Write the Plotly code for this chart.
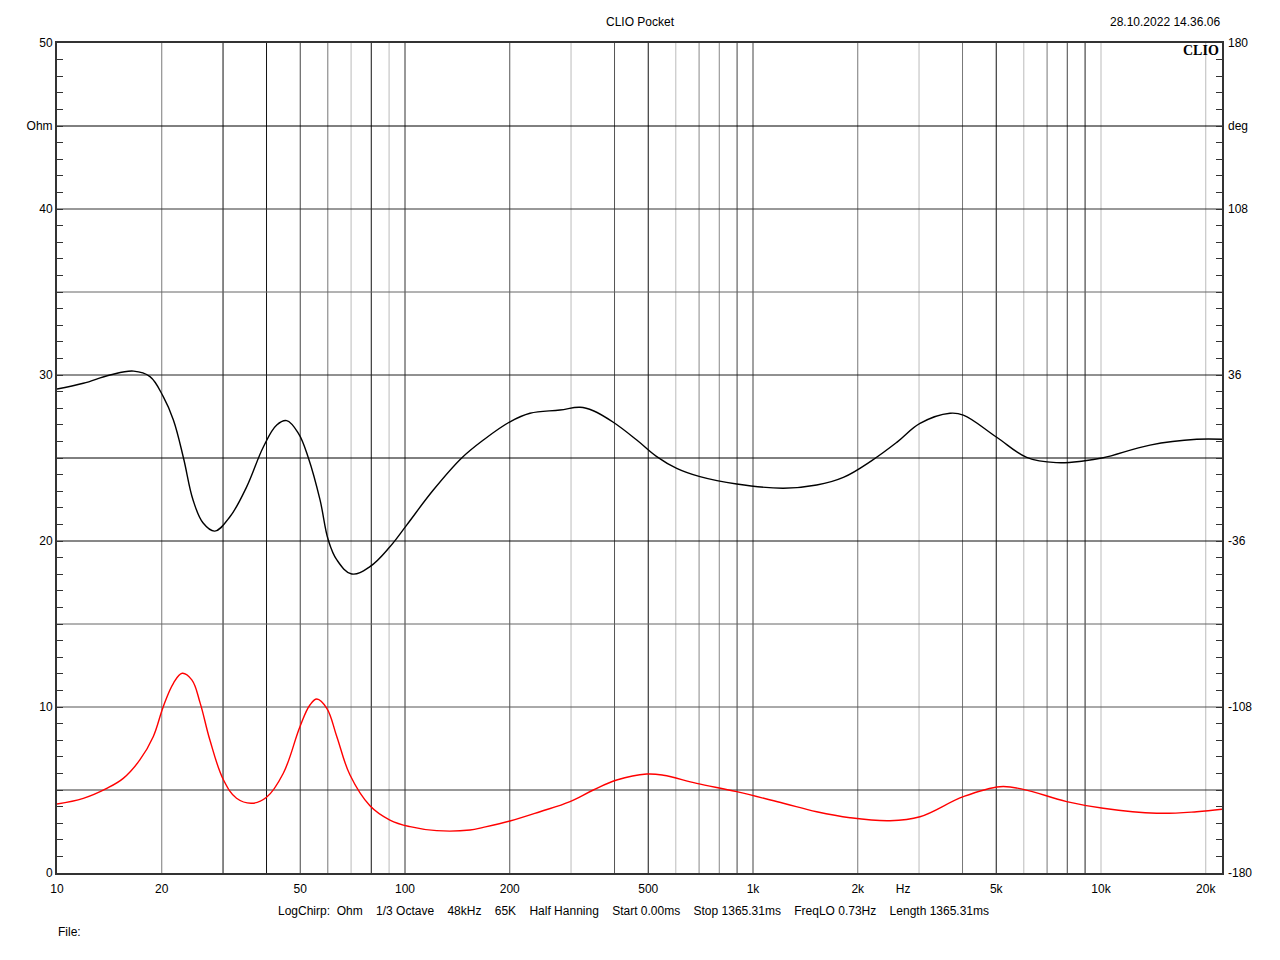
import plotly.graph_objects as go

# ---- data ----
phase_freq = [10, 11.9, 14.2, 16.6, 18.5, 20.2, 21.6, 23.1, 24.6, 26.3, 28.4, 31.4, 35.1, 39.2,
              42.8, 45.7, 49.4, 52.8, 57.0, 60.2, 63.7, 70.3, 79.3, 90.5, 101.1, 120.6, 145.5,
              167.9, 200.3, 228.7, 278.9, 318.4, 347.6, 396.8, 463.4, 528.9, 603.6, 704.1,
              897.8, 1222, 1524, 1818, 2200, 2600, 3019, 3682, 4021, 5015, 6116, 7459, 8892,
              10150, 13830, 18840, 22270]
phase_deg = [29.9, 32.4, 36.0, 37.7, 35.3, 26.6, 16.5, -0.1, -18.2, -28.2, -31.7, -25.5, -12.4, 4.9,
             14.3, 16.2, 10.7, -0.1, -18.2, -35.6, -44.2, -50.3, -47.1, -38.5, -29.1, -13.9, 0.0,
             7.8, 15.7, 19.4, 20.8, 22.0, 20.5, 15.5, 7.8, 0.6, -4.5, -8.1,
             -11.3, -13.1, -11.7, -8.4, -1.0, 7.0, 15.0, 19.4, 18.6, 9.0, 0.3, -2.0, -1.3,
             0.1, 5.6, 8.1, 8.1]

imp_freq = [10, 11.9, 13.9, 15.5, 17.3, 18.9, 20.2, 21.6, 22.9, 24.4, 25.8, 27.5, 30.1, 32.8,
            36.3, 40.0, 44.7, 49.9, 53.3, 55.8, 59.6, 63.7, 69.5, 79.3, 90.5, 103.4, 123.3,
            153.8, 167.9, 200.3, 244.3, 298.0, 347.6, 405.8, 494.9, 552.5, 688.9, 897.8,
            1222, 1524, 1900, 2476, 3019, 4021, 5126, 5979, 7969, 10150, 14450, 18840, 22270]
imp_ohm = [4.16, 4.50, 5.10, 5.70, 6.81, 8.21, 10.02, 11.43, 12.03, 11.63, 10.22, 8.01, 5.60, 4.50,
           4.20, 4.56, 6.01, 8.81, 10.12, 10.48, 9.92, 8.21, 5.90, 4.05, 3.19, 2.79, 2.55,
           2.59, 2.75, 3.13, 3.69, 4.30, 5.00, 5.60, 5.96, 5.89, 5.40, 4.90,
           4.20, 3.69, 3.33, 3.15, 3.39, 4.60, 5.20, 5.04, 4.30, 3.90, 3.60, 3.69, 3.84]

x_tick_vals = [10, 20, 50, 100, 200, 500, 1000, 2000, 2700, 5000, 10000, 20000]
x_tick_text = ["10", "20", "50", "100", "200", "500", "1k", "2k", "Hz", "5k", "10k", "20k"]

grid_freqs = [20, 30, 40, 50, 60, 70, 80, 90, 100, 200, 300, 400, 500, 600, 700, 800, 900,
              1000, 2000, 3000, 4000, 5000, 6000, 7000, 8000, 9000, 10000, 20000]
grid_freq_colors = ["#7a7a7a", "#111111", "#111111", "#444444", "#777777", "#bbbbbb", "#111111",
                    "#bbbbbb", "#333333", "#555555", "#bbbbbb", "#555555", "#111111", "#bbbbbb",
                    "#888888", "#888888", "#444444", "#444444", "#777777", "#bbbbbb", "#777777",
                    "#111111", "#bbbbbb", "#777777", "#444444", "#222222", "#bbbbbb", "#bbbbbb"]
grid_ohm = [5, 10, 15, 20, 25, 30, 35, 40, 45]
grid_ohm_colors = ["#333333", "#555555", "#666666", "#111111", "#000000", "#222222", "#666666",
                   "#333333", "#000000"]

ohm_labels = {0: "0", 10: "10", 20: "20", 30: "30", 40: "40", 45: "Ohm", 50: "50"}
deg_labels = {0: "-180", 10: "-108", 20: "-36", 30: "36", 40: "108", 45: "deg", 50: "180"}

X_MIN, X_MAX = 10, 22270
Y_MIN, Y_MAX = 0, 50
DEG_MIN, DEG_MAX = -180, 180

fig = go.Figure()

# grid lines (as traces so they follow the axis scales)
for f, c in zip(grid_freqs, grid_freq_colors):
    fig.add_trace(go.Scatter(x=[f, f], y=[Y_MIN, Y_MAX], mode="lines",
                             line=dict(color=c, width=1), hoverinfo="skip", showlegend=False))
for v, c in zip(grid_ohm, grid_ohm_colors):
    fig.add_trace(go.Scatter(x=[X_MIN, X_MAX], y=[v, v], mode="lines",
                             line=dict(color=c, width=1), hoverinfo="skip", showlegend=False))

# impedance (red, Ohm)
fig.add_trace(go.Scatter(x=imp_freq, y=imp_ohm, mode="lines",
                         line=dict(color="#ff0000", width=1.4, shape="spline", smoothing=1.1),
                         showlegend=False))
# phase (black, deg)
fig.add_trace(go.Scatter(x=phase_freq, y=phase_deg, mode="lines", yaxis="y2",
                         line=dict(color="#000000", width=1.4, shape="spline", smoothing=1.1),
                         showlegend=False))

ohm_ticks = list(range(0, 51))
deg_ticks = [DEG_MIN + (DEG_MAX - DEG_MIN) * k / 50 for k in ohm_ticks]

font = dict(family="Liberation Sans, Arial, sans-serif", size=12, color="#000000")

# page body has an 8px default margin -> figure offset; plot area targets screen px 57..1222 x 43..873
fig.update_layout(
    width=1264, height=944,
    margin=dict(l=49, r=50, t=35, b=79, autoexpand=False),
    paper_bgcolor="white", plot_bgcolor="white",
    font=font,
    xaxis=dict(type="log", range=[1, 4.3477], showgrid=False, zeroline=False,
               tickmode="array", tickvals=x_tick_vals, ticktext=x_tick_text,
               ticks="", showline=True, linecolor="#333333", linewidth=2, mirror=True,
               ticklabelstandoff=4, tickfont=font),
    yaxis=dict(range=[Y_MIN, Y_MAX], showgrid=False, zeroline=False,
               tickmode="array", tickvals=ohm_ticks,
               ticktext=[ohm_labels.get(k, "") for k in ohm_ticks],
               ticks="inside", ticklen=6, tickcolor="#333333",
               showline=True, linecolor="#333333", linewidth=2, mirror=True,
               tickfont=font),
    yaxis2=dict(range=[DEG_MIN, DEG_MAX], overlaying="y", side="right", showgrid=False,
                zeroline=False, tickmode="array", tickvals=deg_ticks,
                ticktext=[deg_labels.get(k, "") for k in ohm_ticks],
                ticks="inside", ticklen=6, tickcolor="#333333", showline=False,
                ticklabelstandoff=5, tickfont=font),
)

def px2paper(px, py):
    return (px - 57) / 1165, (873 - py) / 830

annots = [
    ("CLIO Pocket", 640, 22, "center", font),
    ("28.10.2022 14.36.06", 1222, 22, "right", font),
    ("<b>CLIO</b>", 1221, 50, "right", dict(family="Liberation Serif, DejaVu Serif, serif", size=14, color="#000")),
    ("LogChirp:  Ohm    1/3 Octave    48kHz    65K    Half Hanning    Start 0.00ms    Stop 1365.31ms    FreqLO 0.73Hz    Length 1365.31ms",
     633, 911, "center", font),
    ("File:", 56, 932, "left", font),
]
for text, px, py, anchor, fnt in annots:
    xp, yp = px2paper(px, py)
    fig.add_annotation(text=text, x=xp, y=yp, xref="paper", yref="paper",
                       xanchor=anchor, yanchor="middle", showarrow=False, font=fnt)

fig.write_html("out.html")
